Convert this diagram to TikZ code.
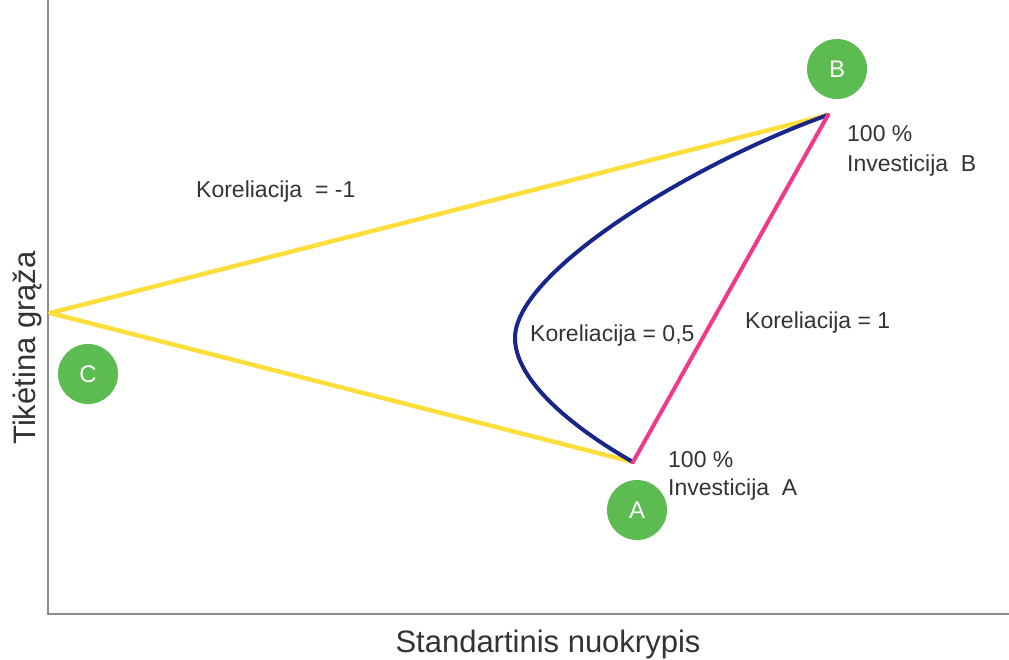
\documentclass[tikz,border=0pt]{standalone}
\usepackage{fontspec}
\setmainfont{Liberation Sans}
\definecolor{txt}{RGB}{51,51,51}
\definecolor{axisgray}{RGB}{140,140,140}
\definecolor{lineyellow}{RGB}{253,222,60}
\definecolor{linenavy}{RGB}{24,38,140}
\definecolor{linepink}{RGB}{243,56,140}
\definecolor{badgegreen}{RGB}{92,188,82}
\begin{document}
\begin{tikzpicture}[x=1pt,y=-1pt,
  badge/.style={circle,fill=badgegreen,minimum size=60pt,inner sep=0pt,
    text=white,font=\fontsize{24}{24}\selectfont},
  lbl/.style={anchor=base west,inner sep=0pt,text=txt,font=\fontsize{23}{23}\selectfont},
  axislbl/.style={inner sep=0pt,text=txt,font=\fontsize{31}{31}\selectfont},
  frontier/.style={line width=4.5pt,line cap=round,line join=round}]
\useasboundingbox (0,0) rectangle (1009,660);

% axes
\coordinate (top) at (48,0);
\coordinate (origin) at (48,614);
\coordinate (right) at (1009,614);
\draw[axisgray,line width=2pt] (top) -- (origin) -- (right);
\node[axislbl,anchor=base] (xlab) at (548,652) {Standartinis nuokrypis};
\node[axislbl,anchor=base,rotate=90] (ylab) at (35,348) {Tikėtina grąža};

% portfolio points
\coordinate (pA) at (633,462);
\coordinate (pB) at (828,115);
\coordinate (pC) at (50,313);

% correlation = -1
\draw[frontier,lineyellow] (pB) -- (pC) -- (pA);
% correlation = 0,5
\draw[frontier,linenavy,line width=4pt] (pA) .. controls (585,435) and (515,385) .. (515,338)
  .. controls (515,270) and (700,160) .. (pB);
% correlation = 1
\draw[frontier,linepink,line width=4pt] (pA) -- (pB);

% badges
\node[badge] (bA) at (637,510) {A};
\node[badge] (bB) at (837,69) {B};
\node[badge] (bC) at (88,374) {C};

% labels
\node[lbl] (kminus) at (196,198) {Koreliacija \ = -1};
\node[lbl] (kone) at (745,328) {Koreliacija = 1};
\node[lbl] (khalf) at (530,341) {Koreliacija = 0,5};
\node[lbl] (a1) at (668,467) {100 \%};
\node[lbl] (a2) at (668,495) {Investicija \ A};
\node[lbl] (b1) at (847,142) {100 \%};
\node[lbl] (b2) at (847,172) {Investicija \ B};
\end{tikzpicture}
\end{document}
